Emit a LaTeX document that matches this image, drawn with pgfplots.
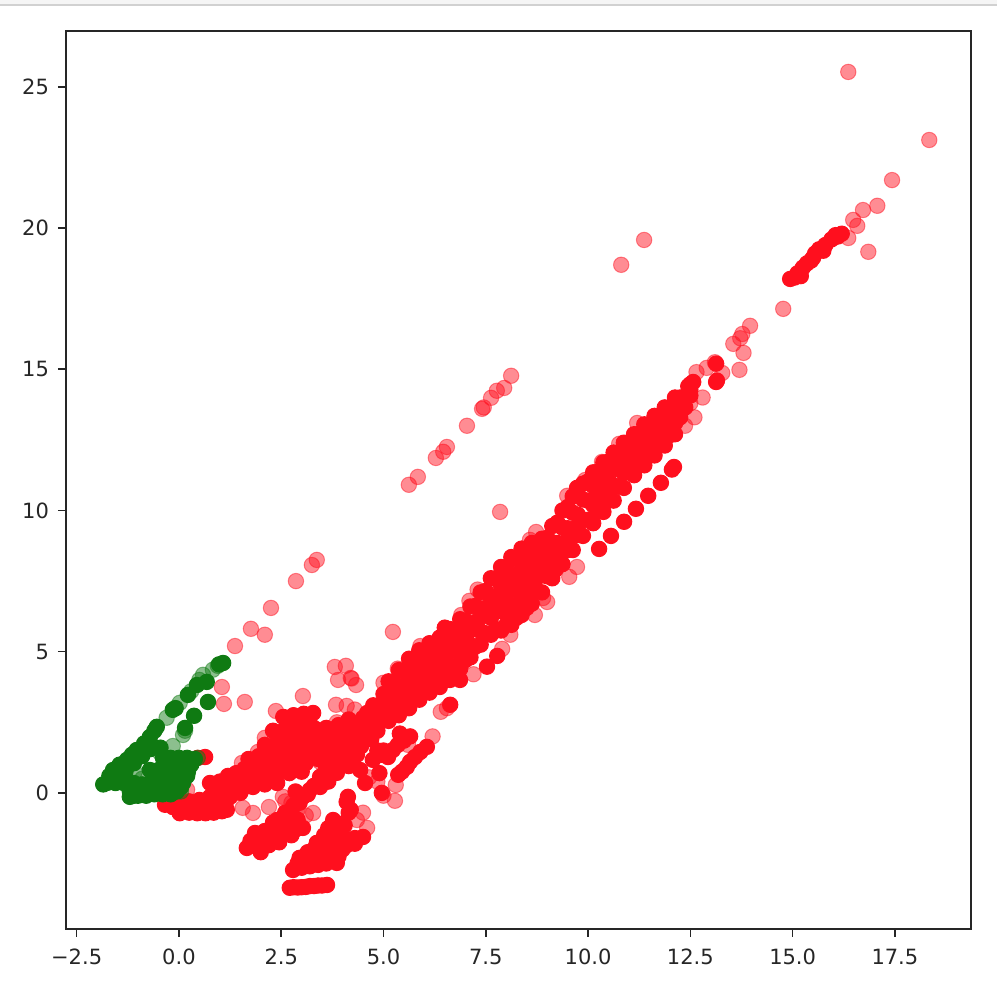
\documentclass[border=0pt]{standalone}
\usepackage{pgfplots}
\pgfplotsset{compat=1.18}
\usepackage{fontspec}
\setmainfont{DejaVu Sans}
\definecolor{rd}{HTML}{FF0F1E}
\definecolor{gn}{HTML}{0F7A12}
\definecolor{txt}{HTML}{262626}
\begin{document}
\begin{tikzpicture}
\path[use as bounding box] (0,0) rectangle (498.5pt,500pt);
\fill[black!4] (0,497.6pt) rectangle (498.5pt,500pt);
\fill[black!18] (0,497pt) rectangle (498.5pt,497.9pt);
\begin{axis}[
  at={(33pt,35.5pt)}, anchor=south west,
  scale only axis, width=452.5pt, height=449pt,
  xmin=-2.76, xmax=19.36, ymin=-4.82, ymax=26.98,
  xtick={-2.5,0,2.5,5,7.5,10,12.5,15,17.5},
  xticklabels={−2.5,0.0,2.5,5.0,7.5,10.0,12.5,15.0,17.5},
  ytick={0,5,10,15,20,25},
  yticklabels={0,5,10,15,20,25},
  tick align=outside, tick style={black!85,line width=0.8pt},
  major tick length=4pt,
  xtick pos=bottom, ytick pos=left,
  axis line style={line width=0.9pt,black!85},
  tick label style={font=\fontsize{10.5}{12}\selectfont,text=txt},
  x tick label style={yshift=-2.5pt},
  y tick label style={xshift=-1pt},
]
% light red points
\addplot[only marks,mark=*,mark size=3.85pt,mark options={draw=rd,fill=rd,line width=0.5pt,opacity=0.48}] coordinates {
(16.36,25.53)(18.34,23.12)(17.43,21.7)(17.07,20.79)(16.72,20.64)(16.48,20.29)(16.58,20.08)(16.85,19.16)(16.36,19.65)
(11.37,19.58)(10.81,18.7)(14.77,17.14)(13.96,16.54)(13.77,16.25)(13.72,16.1)(13.8,15.58)(13.7,14.98)(13.55,15.9)
(8.12,14.77)(7.95,14.34)(7.77,14.24)(7.63,13.99)(7.41,13.6)(7.45,13.65)(7.04,13.0)(6.55,12.25)(6.46,12.08)(6.28,11.86)
(5.84,11.19)(5.62,10.91)(7.85,9.95)(3.37,8.25)(3.25,8.07)(2.86,7.5)(2.25,6.55)(1.76,5.81)(2.1,5.6)(1.37,5.2)(5.23,5.7)
(1.05,3.75)(1.1,3.15)(1.61,3.22)(3.03,3.43)(2.37,2.9)(3.81,4.46)(4.08,4.5)(3.89,4.0)(4.2,4.07)(4.22,4.05)(4.33,3.82)
(3.84,3.12)(4.1,3.08)(4.3,2.95)(4.6,-1.24)(5.28,-0.28)(5.3,0.28)(6.4,2.87)(6.55,3.0)(6.5,5.84)
(12.9,15.05)(13.28,14.87)(12.8,14.0)(12.6,13.3)(12.37,13.0)(11.2,13.1)(10.76,12.36)(10.34,11.72)(9.93,11.08)(9.49,10.52)
(8.73,9.24)(8.58,8.96)(9.73,8.0)(9.54,7.65)(9.0,6.76)(8.9,6.9)(8.7,6.3)(12.65,14.9)(13.1,15.25)(12.1,13.5)(12.5,13.8)
(2.1,1.95)(1.93,1.45)(1.54,1.06)(1.56,-0.53)(1.81,-0.71)(2.54,-0.14)(3.28,-0.71)(3.1,-0.8)(4.35,-0.96)(0.2,0.11)
(3.86,2.5)(3.45,1.1)(2.6,-0.3)(2.75,-0.35)(4.5,-0.7)(5.0,-0.1)(4.85,0.4)(4.65,0.55)(6.2,2.0)(7.2,4.2)(7.9,5.1)(8.1,5.6)(5.6,1.7)
(2.2,-0.5)(2.9,-0.6)(7.1,6.8)(7.3,7.2)(6.9,6.3)(5.0,3.9)(5.35,4.4)(5.9,5.2)
};
% dense red (heavily overplotted in the reference)
\addplot[only marks,mark=*,mark size=3.85pt,mark options={draw=rd,fill=rd,line width=0.5pt}] coordinates {
(4.5,2.65)(4.75,3.1)(5,3.5)(5.25,3.9)(5.5,4.32)(5.75,4.7)(6,5.0)(6.25,5.22)(6.5,5.5)(6.75,5.77)(7,6.1)(7.25,6.62)(7.5,7.15)(7.75,7.6)(8,7.95)(8.25,8.3)(8.5,8.45)(8.75,8.75)(9,9.03)(9.25,9.57)(9.5,10.12)(9.75,10.57)(10,11.03)(10.25,11.38)(10.5,11.73)(10.75,12.05)(11,12.35)(11.25,12.72)(11.5,13.05)(11.75,13.35)(12,13.63)(12.25,14.0)(12.5,14.47)
(4.625,2.66)(4.875,3.08)(5.125,3.42)(5.375,3.8)(5.625,4.16)(5.875,4.5)(6.125,4.72)(6.375,4.98)(6.625,5.27)(6.875,5.6)(7.125,5.93)(7.375,6.44)(7.625,6.95)(7.875,7.33)(8.125,7.63)(8.375,7.95)(8.625,8.15)(8.875,8.55)(9.125,8.87)(9.375,9.39)(9.625,9.92)(9.875,10.39)(10.125,10.87)(10.375,11.22)(10.625,11.57)(10.875,11.93)(11.125,12.28)(11.375,12.64)(11.625,12.95)(11.875,13.28)(12.125,13.57)(12.375,14.0)
(4.5,2.3)(4.75,2.7)(5,3.05)(5.25,3.35)(5.5,3.65)(5.75,4.0)(6,4.3)(6.25,4.5)(6.5,4.75)(6.75,5.05)(7,5.4)(7.25,5.9)(7.5,6.4)(7.75,6.7)(8,6.95)(8.25,7.25)(8.5,7.5)(8.75,7.95)(9,8.35)(9.25,8.85)(9.5,9.37)(9.75,9.85)(10,10.35)(10.25,10.7)(10.5,11.05)(10.75,11.45)(11,11.85)(11.25,12.2)(11.5,12.5)(11.75,12.85)(12,13.15)(12.25,13.65)(12.5,14.27)
(4.625,2.31)(4.875,2.68)(5.125,3.0)(5.375,3.25)(5.625,3.5)(5.875,3.8)(6.125,4.02)(6.375,4.24)(6.625,4.5)(6.875,4.87)(7.125,5.23)(7.375,5.72)(7.625,6.2)(7.875,6.43)(8.125,6.63)(8.375,6.9)(8.625,7.2)(8.875,7.75)(9.125,8.19)(9.375,8.67)(9.625,9.17)(9.875,9.67)(10.125,10.19)(10.375,10.54)(10.625,10.89)(10.875,11.33)(11.125,11.78)(11.375,12.12)(11.625,12.4)(11.875,12.78)(12.125,13.09)(12.375,13.65)
(4.5,1.95)(4.75,2.3)(5,2.6)(5.25,2.8)(5.5,2.98)(5.75,3.3)(6,3.6)(6.25,3.78)(6.5,4.0)(6.75,4.33)(7,4.7)(7.25,5.18)(7.5,5.65)(7.75,5.8)(8,5.95)(8.25,6.2)(8.5,6.55)(8.75,7.15)(9,7.67)(9.25,8.13)(9.5,8.62)(9.75,9.13)(10,9.67)(10.25,10.02)(10.5,10.37)(10.75,10.85)(11,11.35)(11.25,11.68)(11.5,11.95)(11.75,12.35)(12,12.67)(12.25,13.3)(12.5,14.07)
(8.875,9.0)(9.125,9.45)(9.375,10.0)(9.625,10.5)(9.875,10.95)(10.125,11.35)(10.375,11.7)(10.625,12.05)(10.875,12.4)(11.125,12.7)(11.375,13.05)(11.625,13.35)(11.875,13.65)(12.125,14.0)
(8.875,7.1)(9.125,7.6)(9.375,8.1)(9.625,8.6)(9.875,9.1)(10.125,9.55)(10.375,9.95)(10.625,10.35)(10.875,10.8)(11.125,11.25)(11.375,11.6)(11.625,11.95)(11.875,12.3)(12.125,12.7)
(5.125,3.95)(5.375,4.35)(5.625,4.75)(5.875,5.05)(6.125,5.3)(6.375,5.5)(6.625,5.8)(6.875,6.15)(7.125,6.6)(7.375,7.1)(7.625,7.6)(7.875,8.0)(8.125,8.35)(8.375,8.65)(8.625,8.85)
(5.125,2.55)(5.375,2.75)(5.625,3.0)(5.875,3.3)(6.125,3.55)(6.375,3.75)(6.625,4.0)(6.875,4.4)(7.125,4.8)(7.375,5.25)(7.625,5.6)(7.875,5.75)(8.125,5.95)(8.375,6.3)(8.625,6.7)
(8.9,8.15)(8.75,8.35)(8.6,7.9)(8.5,7.1)(8.7,7.5)(9.3,8.4)(9.5,8.95)(9.75,9.45)(8.45,8.1)(8.3,7.6)(8.05,7.3)(7.8,7.0)(7.55,6.6)(8.1,6.3)(8.35,6.6)(9.1,8.55)(7.3,6.1)(7.05,5.65)(6.6,5.1)(6.1,4.5)(5.65,3.85)
(12.57,14.55)(12.45,14.4)(13.13,15.2)(13.13,14.55)(13.15,14.6)
(10.27,8.64)(10.56,9.1)(10.88,9.6)(11.17,10.06)(11.47,10.52)(11.78,10.98)(12.1,11.54)(12.05,11.45)
(9.73,10.8)(6.63,3.12)(7.53,4.47)(7.78,4.85)(6.87,4.0)(6.5,5.85)(9.2,7.9)(9.5,8.6)
(14.94,18.2)(15.05,18.25)(15.2,18.3)(15.25,18.6)(15.35,18.75)(15.45,18.85)(15.55,19.1)(15.65,19.25)(15.8,19.4)(15.95,19.6)(16.1,19.7)(16.2,19.8)(15.12,18.4)(15.5,18.95)(15.75,19.2)(16.05,19.75)
(0.64,1.27)(0.46,1.24)
(-0.34,-0.42)(-0.15,-0.5)(0.02,-0.72)(0.25,-0.7)(0.45,-0.72)(0.65,-0.72)(0.85,-0.7)(1.05,-0.65)(1.17,-0.6)
(0.02,-0.32)(0.25,-0.3)(0.5,-0.25)(0.76,-0.14)(1.0,-0.15)(1.25,-0.14)(1.5,0.0)(1.81,0.21)(2.1,0.3)(2.4,0.35)
(0.76,0.35)(1.0,0.4)(1.2,0.42)(1.42,0.46)(1.65,0.7)(1.81,0.92)(2.0,0.95)(2.3,1.0)(2.64,1.06)(3.0,1.1)
(1.66,-1.95)(1.9,-1.9)(2.0,-2.1)(2.2,-1.85)(2.45,-1.75)(2.64,-1.31)(2.85,-1.3)(3.03,-1.24)(1.86,-1.42)(2.1,-1.35)(2.35,-1.25)
(2.4,-0.96)(2.6,-0.7)(2.8,-0.45)(3.0,-0.14)(3.2,0.1)(3.45,0.21)(3.65,0.4)(3.86,0.71)(3.45,0.57)(3.69,0.7)
(2.71,-3.36)(2.9,-3.35)(3.1,-3.33)(3.3,-3.3)(3.5,-3.28)(3.62,-3.26)
(2.79,-2.73)(3.0,-2.65)(3.2,-2.6)(3.4,-2.55)(3.6,-2.5)(3.86,-2.48)
(2.95,-2.3)(3.15,-2.1)(3.37,-1.77)(3.6,-1.75)(3.85,-1.7)(4.1,-1.65)(4.3,-1.6)(4.5,-1.56)
(3.2,-2.3)(3.5,-2.2)(3.75,-2.1)(4.0,-2.0)(3.77,-0.96)(3.95,-1.1)(4.1,-0.32)(4.15,-0.7)
(2.55,2.69)(2.8,2.75)(3.05,2.8)(3.28,2.83)
(2.3,2.2)(2.55,2.2)(2.8,2.2)(3.05,2.25)(3.3,2.3)
(2.1,1.7)(2.35,1.7)(2.6,1.7)(2.85,1.75)(3.1,1.75)(3.35,1.75)
(1.7,1.2)(1.95,1.3)(2.2,1.3)(2.45,1.35)(2.7,1.35)(2.95,1.35)(3.2,1.35)(3.45,1.4)
(1.2,0.6)(1.5,0.6)(1.8,0.6)(2.1,0.65)(2.4,0.7)(2.7,0.7)(3.0,0.75)
(1.0,0.1)(1.3,0.15)(1.6,0.2)(1.9,0.4)(2.2,0.45)
(3.37,1.88)(3.6,1.9)(3.8,1.95)(4.18,2.0)(4.4,2.3)(4.6,2.83)(4.3,1.95)
(3.4,1.2)(3.65,1.35)(3.9,1.45)(4.2,1.5)(4.45,1.65)(4.7,1.9)(3.6,2.3)(3.9,2.4)(4.15,2.6)
(4.2,1.1)(4.43,0.81)(4.55,0.35)(4.13,-0.14)(4.74,1.17)(4.96,0.0)(5.11,1.27)(5.23,1.52)(5.36,0.64)(5.57,0.92)(5.65,2.0)(5.77,1.27)(6.06,1.63)(5.0,1.5)(4.9,0.7)(5.4,2.1)
(3.03,-0.14)(2.85,0.05)
(2.68,2.45)(2.93,2.5)(3.18,2.55)(2.43,1.95)(2.68,1.95)(2.93,2.0)(3.18,2.0)(2.22,1.5)(2.47,1.5)(2.72,1.55)(2.97,1.55)(3.22,1.55)(3.4,1.6)
(1.85,1.0)(2.1,1.0)(2.35,1.05)(2.6,1.05)(2.85,1.05)(3.1,1.05)(1.35,0.4)(1.6,0.4)(2.0,0.75)(2.25,0.75)(2.55,0.85)(2.8,0.85)(1.1,0.3)(1.4,0.7)(1.6,0.85)
(1.15,-0.3)(0.9,-0.4)(0.6,-0.45)(0.3,-0.5)(0.1,-0.5)(0.9,0.05)
(1.75,-1.7)(2.0,-1.65)(2.25,-1.55)(2.5,-1.45)(2.75,-1.5)(2.3,-1.05)(2.5,-1.1)(2.7,-1.0)(2.9,-0.95)(2.55,-0.85)(2.75,-0.6)(2.95,-0.35)(3.15,-0.05)(3.3,0.25)
(2.8,-3.34)(3.0,-3.34)(3.2,-3.3)(3.4,-3.28)
(2.9,-2.5)(3.1,-2.4)(3.3,-2.35)(3.5,-2.35)(3.7,-2.3)(3.9,-2.25)(3.3,-2.0)(3.5,-1.95)(3.7,-1.9)(3.9,-1.85)(4.1,-1.85)(4.3,-1.8)(3.55,-1.5)(3.75,-1.45)(3.95,-1.4)(3.65,-1.25)(3.85,-1.2)(4.05,-1.15)(4.2,-0.6)
(3.2,2.0)(3.5,2.1)(3.75,2.15)(4.0,2.2)(4.25,2.3)(4.5,2.55)(3.55,1.6)(3.8,1.7)(4.05,1.75)(4.3,1.75)(4.55,1.9)(3.6,1.1)(3.85,1.15)(4.1,1.25)(4.35,1.35)(3.6,0.9)(3.9,0.95)(4.15,0.95)(4.7,2.1)(4.85,2.2)
(4.85,1.5)(4.95,1.35)(5.5,1.85)(5.35,1.7)(5.45,0.75)(5.65,1.1)(5.9,1.45)
};
% light green points
\addplot[only marks,mark=*,mark size=3.85pt,mark options={draw=gn,fill=gn,line width=0.5pt,opacity=0.48}] coordinates {
(0.83,4.36)(0.95,4.5)(0.59,4.18)(0.5,4.0)(0.3,3.6)(0.02,3.19)(-0.1,3.0)(-0.3,2.66)(0.1,2.05)(0.15,2.2)(-0.15,1.66)(-0.46,1.42)(-1.08,0.74)(-0.9,0.5)(0.46,1.24)(0.05,0.05)
};
% dense green
\addplot[only marks,mark=*,mark size=3.85pt,mark options={draw=gn,fill=gn,line width=0.5pt}] coordinates {
(1.08,4.6)(0.98,4.55)(0.68,3.93)(0.44,3.82)(0.22,3.47)(-0.15,2.94)(-0.08,3.0)(-0.54,2.34)(-0.6,2.2)(-0.71,1.98)(-0.85,1.75)(-1.03,1.52)(-1.15,1.35)(-1.27,1.17)(-1.45,1.0)(-1.61,0.81)(-1.7,0.6)(-1.76,0.35)(-1.85,0.3)(-0.45,1.6)
(0.71,3.22)(0.37,2.73)(0.15,2.3)
(-1.5,0.55)(-1.3,0.8)(-1.1,1.05)(-0.9,1.3)(-0.7,1.55)
(-0.39,1.24)(-0.2,1.24)(0,1.24)(0.2,1.24)(0.39,1.2)
(-0.3,1.0)(-0.1,1.0)(0.1,1.0)(0.3,1.0)
(-0.71,0.81)(-0.5,0.81)(-0.3,0.81)(-0.1,0.81)(0.1,0.81)(0.22,0.75)
(-0.6,0.6)(-0.4,0.6)(-0.2,0.6)(0,0.6)(0.2,0.6)
(-1.55,0.35)(-1.35,0.35)(-1.27,0.45)(-1.1,0.35)(-0.9,0.3)(-0.7,0.35)(-0.5,0.35)(-0.3,0.35)(-0.1,0.35)(0.1,0.35)
(-1.1,0.15)(-0.9,0.15)(-0.7,0.15)(-0.5,0.15)(-0.3,0.15)(-0.1,0.15)(0.05,0.2)
(-1.2,-0.14)(-1.1,-0.1)(-1.2,0.05)(-1.0,0)(-0.8,0)(-0.6,0)(-0.4,0)(-0.2,0.05)(-0.05,0.05)
(-1,-0.1)(-0.8,-0.1)(-0.6,-0.05)(-0.4,-0.05)(-0.2,-0.05)
};
\end{axis}
\end{tikzpicture}
\end{document}
